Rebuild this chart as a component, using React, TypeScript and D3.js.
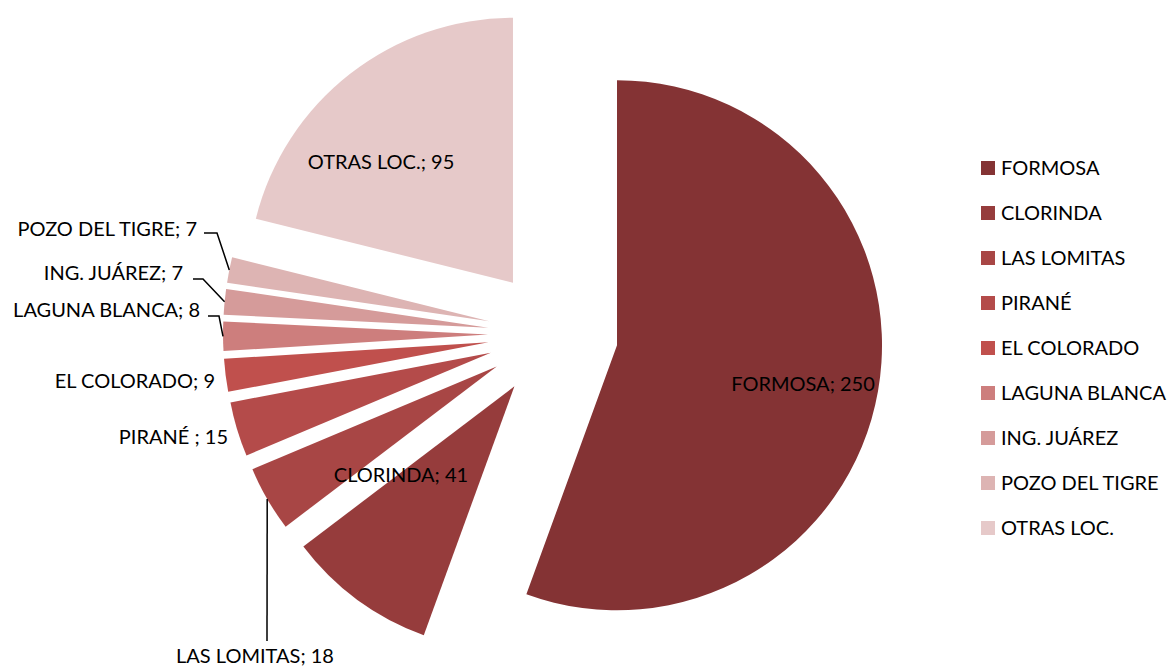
import React from "react";
import * as d3 from "d3";

// casos por localidad
const localidades = [
  "FORMOSA",
  "CLORINDA",
  "LAS LOMITAS",
  "PIRANÉ ",
  "EL COLORADO",
  "LAGUNA BLANCA",
  "ING. JUÁREZ",
  "POZO DEL TIGRE",
  "OTRAS LOC.",
];
const casos = [250, 41, 18, 15, 9, 8, 7, 7, 95];
const colores = [
  "#843334",
  "#963c3c",
  "#a84645",
  "#b44b4a",
  "#c0504d",
  "#cd7e7d",
  "#d59b9a",
  "#ddb4b3",
  "#e6c9c9",
];

const W = 1173,
  H = 666;
const cx = 553,
  cy = 334,
  radius = 265,
  explode = 65;
const font = "Lato, 'Liberation Sans', sans-serif";
const fontSize = 20;

// data label placement (excel "best fit"), text anchor x/baseline y, optional elbow for leader
const labelLayout = [
  { x: 803, y: 391, anchor: "middle" },
  { x: 401, y: 482, anchor: "middle" },
  { x: 255, y: 663, anchor: "middle", elbow: [267, 641], end: [267, 641] },
  { x: 228, y: 444, anchor: "end" },
  { x: 215, y: 388, anchor: "end" },
  { x: 200, y: 317, anchor: "end", elbow: [219, 316], end: [208, 316] },
  { x: 183, y: 280, anchor: "end", elbow: [203, 279], end: [193, 279] },
  { x: 197, y: 236, anchor: "end", elbow: [217, 233], end: [204, 233] },
  { x: 381, y: 169, anchor: "middle" },
];

const App = () => {
  const data = localidades.map((name, i) => ({ name, value: casos[i], color: colores[i] }));
  const pie = d3
    .pie<any>()
    .sort(null)
    .value((d) => d.value)
    .startAngle(0)
    .endAngle(2 * Math.PI);
  const arcs = pie(data);
  const arc = d3.arc<any>().innerRadius(0).outerRadius(radius);

  const offset = (a) => {
    const mid = (a.startAngle + a.endAngle) / 2;
    return [explode * Math.sin(mid), -explode * Math.cos(mid)];
  };
  const outerPoint = (a) => {
    const mid = (a.startAngle + a.endAngle) / 2;
    const [dx, dy] = offset(a);
    return [cx + dx + radius * Math.sin(mid), cy + dy - radius * Math.cos(mid)];
  };

  const legendY = d3
    .scaleLinear()
    .domain([0, localidades.length - 1])
    .range([161, 161 + 45 * (localidades.length - 1)]);

  return (
    <svg
      width={W}
      height={H}
      style={{ position: "absolute", left: 0, top: 0, background: "#fff" }}
      fontFamily={font}
      fontSize={fontSize}
    >
      <g>
        {arcs.map((a, i) => {
          const [dx, dy] = offset(a);
          return (
            <path
              key={i}
              d={arc(a)}
              fill={a.data.color}
              transform={`translate(${cx + dx},${cy + dy})`}
            />
          );
        })}
      </g>
      <g>
        {arcs.map((a, i) => {
          const l = labelLayout[i];
          if (!l.elbow) return null;
          const p = outerPoint(a);
          const pts = [p, l.elbow, l.end];
          return (
            <path
              key={i}
              d={d3.line()(pts as any)}
              fill="none"
              stroke="#000"
              strokeWidth={1.5}
            />
          );
        })}
        {arcs.map((a, i) => {
          const l = labelLayout[i];
          return (
            <text key={i} x={l.x} y={l.y} textAnchor={l.anchor} fill="#000">
              {`${a.data.name}; ${a.data.value}`}
            </text>
          );
        })}
      </g>
      <g>
        {data.map((d, i) => (
          <g key={i} transform={`translate(981,${legendY(i)})`}>
            <rect width={14} height={14} fill={d.color} />
            <text x={20} y={14} fill="#000">
              {d.name.trim()}
            </text>
          </g>
        ))}
      </g>
    </svg>
  );
};

export default App;
